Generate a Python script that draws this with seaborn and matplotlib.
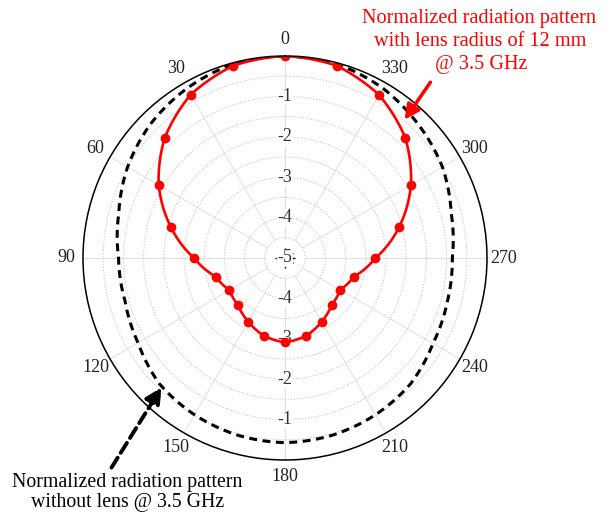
import numpy as np
import matplotlib
matplotlib.use("Agg")
import matplotlib.pyplot as plt
import seaborn as sns
from matplotlib.patches import FancyArrowPatch

# ---- data (dB) ----
angles_deg = [0, 15, 30, 45, 60, 75, 90, 105, 120, 135, 150, 165,
              180, 195, 210, 225, 240, 255, 270, 285, 300, 315, 330, 345]
with_lens = [0.0, -0.07, -0.33, -0.79, -1.39, -2.08, -2.75, -3.22, -3.41, -3.35, -3.18, -3.0,
             -2.91, -3.0, -3.18, -3.36, -3.42, -3.23, -2.76, -2.08, -1.40, -0.79, -0.34, -0.07]
without_lens = [0.0, -0.03, -0.15, -0.3, -0.5, -0.74, -0.88, -0.9, -0.8, -0.6, -0.52, -0.46,
                -0.43, -0.46, -0.52, -0.6, -0.77, -0.84, -0.86, -0.74, -0.5, -0.33, -0.15, -0.03]
theta_ticks = [0, 30, 60, 90, 120, 150, 180, 210, 240, 270, 300, 330]
r_labels_top = [-1, -2, -3, -4, -5]
r_labels_bottom = [-1, -2, -3, -4]
red_note = ["Normalized radiation pattern", "with lens radius of 12 mm", "@ 3.5 GHz"]
black_note = ["Normalized radiation pattern", "without lens @ 3.5 GHz"]

sns.set_theme(style="white")
plt.rcParams["font.family"] = ["Liberation Serif", "DejaVu Serif"]

fig = plt.figure(figsize=(6.13, 5.15), dpi=100)
W, H = 613, 515
cx, cy, R = 285, 258, 202
ax = fig.add_axes([(cx - R) / W, (H - cy - R) / H, 2 * R / W, 2 * R / H], projection="polar")
ax.set_theta_zero_location("N")
ax.set_theta_direction(1)

th = np.deg2rad(np.append(angles_deg, 360))
wl = np.append(with_lens, with_lens[0])
wo = np.append(without_lens, without_lens[0])

# spokes (start at the innermost grid circle, as in the reference)
for t in theta_ticks:
    ax.plot([np.deg2rad(t)] * 2, [-4.5, 0], color="#e0e0e0", lw=0.7, zorder=0.5)

sns.lineplot(x=th, y=wo, ax=ax, color="black", sort=False, lw=2.2,
             linestyle=(0, (2.6, 1.8)), estimator=None)
sns.lineplot(x=th[:-1], y=wl[:-1], ax=ax, color="red", sort=False, lw=0, marker="o",
             markersize=7, markeredgewidth=0, estimator=None)
ax.plot(th, wl, color="red", lw=1.9)
for ln in ax.get_lines()[len(theta_ticks):]:
    ln.get_path()._interpolation_steps = 30
ax.set_xlabel("")
ax.set_ylabel("")

ax.set_ylim(-5, 0)
ax.set_yticks(np.arange(-5, 0.01, 0.5))
ax.set_yticklabels([])
ax.set_xticks(np.deg2rad(theta_ticks))
ax.set_xticklabels([str(t) for t in theta_ticks], fontsize=13, color="#222222")
ax.tick_params(axis="x", which="major", direction="in", length=7, width=1, colors="black",
               pad=5, bottom=True, top=False, labelcolor="#222222")
ax.yaxis.grid(True, color="#c8c8c8", linestyle=(0, (1, 1.5)), lw=0.8)
ax.xaxis.grid(False)
ax.spines["polar"].set_color("black")
ax.spines["polar"].set_linewidth(1.1)

for v in r_labels_top:
    ax.text(0, v, str(v), ha="center", va="center", fontsize=13, color="#333333",
            bbox=dict(facecolor="white", edgecolor="none", pad=0.2), zorder=1)
for v in r_labels_bottom:
    ax.text(np.pi, v, str(v), ha="center", va="center", fontsize=13, color="#333333",
            bbox=dict(facecolor="white", edgecolor="none", pad=0.2), zorder=1)

for line, (x, y) in zip(red_note, [(479.5, 18), (480.5, 42), (481, 65)]):
    fig.text(x / W, 1 - y / H, line, ha="center", va="center", color="red", fontsize=14.6)
for line, (x, y) in zip(black_note, [(127.5, 482), (127.5, 503)]):
    fig.text(x / W, 1 - y / H, line, ha="center", va="center", color="black", fontsize=14.3)

a1 = FancyArrowPatch((432, H - 80), (403, H - 122), transform=None, arrowstyle="-|>",
                     mutation_scale=22, color="red", lw=2.5)
fig.add_artist(a1)
a2 = FancyArrowPatch((110, H - 470), (163, H - 385), transform=None, arrowstyle="-|>",
                     mutation_scale=24, color="black", lw=2.8, linestyle=(0, (3, 1.5)))
fig.add_artist(a2)

fig.savefig("out.png", dpi=100, facecolor="white")
